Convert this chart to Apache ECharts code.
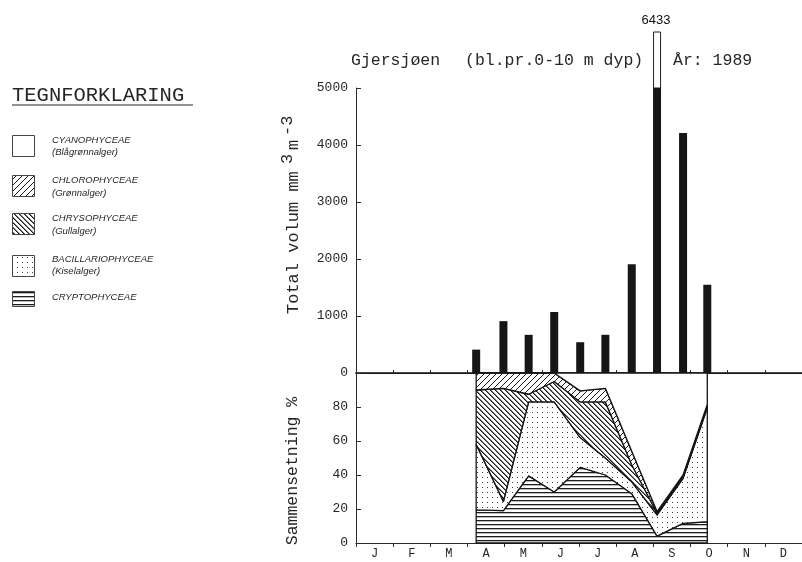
<!DOCTYPE html>
<html><head><meta charset="utf-8">
<script src="https://cdn.jsdelivr.net/npm/echarts@6/dist/echarts.min.js"></script>
<style>html,body{margin:0;padding:0;background:#fff}#c{width:802px;height:562px}</style>
</head><body><div id="c"></div>
<script>
// ---- data ----
const months = ['J','F','M','A','M','J','J','A','S','O','N','D'];
const sampleDates = ['1989-04-08','1989-04-30','1989-05-21','1989-06-11','1989-07-02','1989-07-23','1989-08-14','1989-09-04','1989-09-25','1989-10-15'];
const totalVolume = [410, 910, 670, 1070, 540, 670, 1910, 6433, 4210, 1550];
const cryptophyceae     = [19.5, 19, 39.5, 30, 44.5, 40, 29, 4, 11.5, 12.5];
const bacillariophyceae = [38.5, 5.5, 43.5, 53, 17.5, 10, 7, 12.5, 26.5, 67];
const chrysophyceae     = [32, 66.5, 4.5, 12, 21, 33, 10, 1, 1, 1];
const chlorophyceae     = [10, 9, 12.5, 5, 6.5, 8, 8, 1, 1, 1];
const cyanophyceae      = [0, 0, 0, 0, 10.5, 9, 46, 81.5, 60, 18.5];
const volumeMax = 5000;
const volumeInterval = 1000;
const percentMax = 100;
const percentInterval = 20;
const titleParts = ['Gjersjøen', '(bl.pr.0-10 m dyp)', 'År: 1989'];
const yNameVolume = ['Total volum mm', '3', 'm', '-3'];
const yNamePercent = 'Sammensetning %';
const legendTitle = 'TEGNFORKLARING';
const legendNames = [
  ['CYANOPHYCEAE', '(Blågrønnalger)'],
  ['CHLOROPHYCEAE', '(Grønnalger)'],
  ['CHRYSOPHYCEAE', '(Gullalger)'],
  ['BACILLARIOPHYCEAE', '(Kiselalger)'],
  ['CRYPTOPHYCEAE', '']
];

// ---- helpers ----
function monthPos(s) {
  const d = new Date(s + 'T00:00:00Z');
  const m = d.getUTCMonth();
  const days = new Date(Date.UTC(d.getUTCFullYear(), m + 1, 0)).getUTCDate();
  return m + (d.getUTCDate() - 1) / days;
}
const sampleX = sampleDates.map(monthPos);

function makePattern(type) {
  const c = document.createElement('canvas');
  const ctx = c.getContext('2d');
  if (type === 'h') {
    c.width = 6; c.height = 4;
    ctx.fillStyle = '#fff'; ctx.fillRect(0, 0, 6, 4);
    ctx.fillStyle = '#1c1c1c'; ctx.fillRect(0, 0, 6, 1.3);
  } else if (type === 'dots') {
    c.width = 5; c.height = 5;
    ctx.fillStyle = '#fff'; ctx.fillRect(0, 0, 5, 5);
    ctx.fillStyle = '#3a3a3a'; ctx.fillRect(2, 2, 1, 1);
  } else if (type === 'back') {
    const s = 5; c.width = s; c.height = s;
    ctx.fillStyle = '#fff'; ctx.fillRect(0, 0, s, s);
    for (let i = 0; i < s; i++) {
      ctx.fillStyle = '#1c1c1c'; ctx.fillRect(i, i, 1, 1);
      ctx.fillStyle = '#777'; ctx.fillRect((i + 1) % s, i, 1, 1);
    }
  } else if (type === 'fwd') {
    const s = 6; c.width = s; c.height = s;
    ctx.fillStyle = '#fff'; ctx.fillRect(0, 0, s, s);
    ctx.fillStyle = '#1c1c1c';
    for (let i = 0; i < s; i++) ctx.fillRect(i, s - 1 - i, 1, 1);
  } else {
    c.width = 4; c.height = 4;
    ctx.fillStyle = '#fff'; ctx.fillRect(0, 0, 4, 4);
  }
  return { image: c, repeat: 'repeat' };
}

// bottom-to-top stacking order
const layers = [cryptophyceae, bacillariophyceae, chrysophyceae, chlorophyceae, cyanophyceae];
const layerFills = [makePattern('h'), makePattern('dots'), makePattern('back'), makePattern('fwd'), makePattern('blank')];
// legend order (top to bottom): cyano, chloro, chryso, bacillario, crypto
const legendFills = [layerFills[4], layerFills[3], layerFills[2], layerFills[1], layerFills[0]];

const FONT = '"Liberation Mono", "DejaVu Sans Mono", monospace';
const TXT = '#262626';
const BIG = '16.5px ' + FONT;

const chart = echarts.init(document.getElementById('c'), null, { renderer: 'canvas' });

// legend graphics
const legendRows = [
  { top: 135, l1: 140, l2: 152 },
  { top: 175, l1: 180, l2: 193 },
  { top: 213, l1: 218, l2: 231 },
  { top: 255, l1: 259, l2: 271 },
  { top: 291, l1: 297, l2: 308 }
];
const graphics = [];
graphics.push({ type: 'text', x: 12, y: 96, style: { text: legendTitle, font: '20.5px ' + FONT, fill: TXT, textVerticalAlign: 'middle' } });
graphics.push({ type: 'line', shape: { x1: 12, y1: 105, x2: 193, y2: 105 }, style: { stroke: TXT, lineWidth: 1 } });
legendNames.forEach((nm, i) => {
  const r = legendRows[i];
  graphics.push({ type: 'rect', shape: { x: 12.5, y: r.top + 0.5, width: 22, height: i === 4 ? 15 : 21 }, style: { fill: legendFills[i], stroke: '#444', lineWidth: 1 } });
  graphics.push({ type: 'text', x: 52, y: r.l1, style: { text: nm[0], font: 'italic 9.5px "Liberation Sans", sans-serif', fill: TXT, textVerticalAlign: 'middle' } });
  if (nm[1]) graphics.push({ type: 'text', x: 52, y: r.l2, style: { text: nm[1], font: 'italic 9.5px "Liberation Sans", sans-serif', fill: TXT, textVerticalAlign: 'middle' } });
});
// title
graphics.push({ type: 'text', x: 351, y: 61, style: { text: titleParts[0], font: BIG, fill: TXT, textVerticalAlign: 'middle' } });
graphics.push({ type: 'text', x: 465, y: 61, style: { text: titleParts[1], font: BIG, fill: TXT, textVerticalAlign: 'middle' } });
graphics.push({ type: 'text', x: 673, y: 61, style: { text: titleParts[2], font: BIG, fill: TXT, textVerticalAlign: 'middle' } });
// vertical axis names (read bottom to top), superscripts raised (shifted left)
function vtext(str, x, yStart, font) {
  return { type: 'text', x: x, y: yStart, rotation: Math.PI / 2, style: { text: str, font: font || BIG, fill: TXT, align: 'left', verticalAlign: 'middle' } };
}
const VNAME = '17px ' + FONT;
graphics.push(vtext(yNameVolume[0], 293, 314, VNAME));
graphics.push(vtext(yNameVolume[1], 287, 164, VNAME));
graphics.push(vtext(yNameVolume[2], 293, 150, VNAME));
graphics.push(vtext(yNameVolume[3], 287, 136, VNAME));
graphics.push({ type: 'text', x: 293, y: 471, rotation: Math.PI / 2, style: { text: yNamePercent, font: BIG, fill: TXT, align: 'center', verticalAlign: 'middle' } });

const axisLineStyle = { color: '#2a2a2a', width: 1 };

const option = {
  backgroundColor: '#fff',
  animation: false,
  grid: [
    { left: 356, top: 88, width: 451, height: 285 },
    { left: 356, top: 373, width: 451, height: 170 }
  ],
  xAxis: [
    { gridIndex: 0, type: 'category', data: months, position: 'top', boundaryGap: true,
      axisLine: { show: true, lineStyle: axisLineStyle }, axisTick: { show: true, length: 3, lineStyle: axisLineStyle },
      axisLabel: { show: false }, splitLine: { show: false } },
    { gridIndex: 0, type: 'value', min: 0, max: 12, position: 'bottom',
      axisLine: { show: true, onZero: false, lineStyle: { color: '#111', width: 1.5 } }, axisTick: { show: false },
      axisLabel: { show: false }, splitLine: { show: false } },
    { gridIndex: 1, type: 'category', data: months, position: 'bottom', boundaryGap: true,
      axisLine: { show: true, lineStyle: axisLineStyle }, axisTick: { show: true, length: 4, lineStyle: axisLineStyle },
      axisLabel: { show: true, fontFamily: FONT, fontSize: 12, color: TXT, margin: 5 }, splitLine: { show: false } },
    { gridIndex: 1, type: 'value', min: 0, max: 12, show: false }
  ],
  yAxis: [
    { gridIndex: 0, type: 'value', min: 0, max: volumeMax, interval: volumeInterval,
      axisLine: { show: true, lineStyle: axisLineStyle }, axisTick: { show: true, inside: true, length: 5, lineStyle: axisLineStyle },
      axisLabel: { fontFamily: FONT, fontSize: 13, color: TXT, margin: 8, formatter: v => String(v) }, splitLine: { show: false } },
    { gridIndex: 1, type: 'value', min: 0, max: percentMax, interval: percentInterval,
      axisLine: { show: true, lineStyle: axisLineStyle }, axisTick: { show: true, inside: true, length: 5, lineStyle: axisLineStyle },
      axisLabel: { fontFamily: FONT, fontSize: 13, color: TXT, margin: 8, formatter: v => (v === percentMax ? '' : String(v)) },
      splitLine: { show: false } }
  ],
  series: [
    {
      name: 'Total volum', type: 'custom', xAxisIndex: 1, yAxisIndex: 0, clip: false,
      data: sampleX.map((x, i) => [x, totalVolume[i]]),
      renderItem: function (params, api) {
        const x = api.value(0), v = api.value(1);
        const base = api.coord([x, 0]);
        const top = api.coord([x, Math.min(v, volumeMax)]);
        const w = 8;
        const children = [{ type: 'rect', shape: { x: base[0] - w / 2, y: top[1], width: w, height: base[1] - top[1] }, style: { fill: '#161616' } }];
        if (v > volumeMax) {
          const boxH = 56;
          children.push({ type: 'rect', shape: { x: base[0] - w / 2 + 0.5, y: top[1] - boxH, width: w - 1, height: boxH }, style: { fill: '#fff', stroke: '#222', lineWidth: 1 } });
          children.push({ type: 'text', style: { text: String(v), x: base[0] - 1, y: top[1] - boxH - 5, align: 'center', verticalAlign: 'bottom', font: '13px "Liberation Sans", Arial, sans-serif', fill: '#111' } });
        }
        return { type: 'group', children: children };
      }
    },
    {
      name: 'Sammensetning', type: 'custom', xAxisIndex: 3, yAxisIndex: 1, clip: false,
      data: layers.map((l, i) => [i]),
      encode: { x: 0, y: 0 },
      renderItem: function (params, api) {
        const li = params.dataIndex;
        const lower = sampleX.map((x, k) => { let s = 0; for (let j = 0; j < li; j++) s += layers[j][k]; return s; });
        const upper = lower.map((s, k) => s + layers[li][k]);
        const pts = [];
        sampleX.forEach((x, k) => pts.push(api.coord([x, upper[k]])));
        for (let k = sampleX.length - 1; k >= 0; k--) pts.push(api.coord([sampleX[k], lower[k]]));
        return { type: 'polygon', shape: { points: pts }, style: { fill: layerFills[li], stroke: '#141414', lineWidth: 1.3, lineJoin: 'round' } };
      }
    }
  ],
  graphic: graphics
};
chart.setOption(option);
</script>
</body></html>
